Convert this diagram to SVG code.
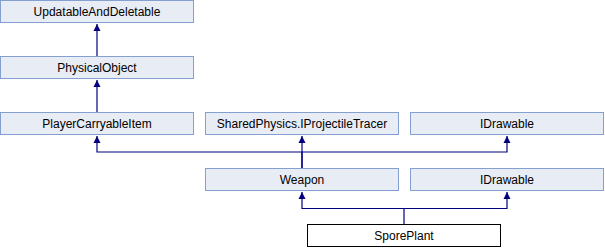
<svg xmlns="http://www.w3.org/2000/svg" width="605" height="248" viewBox="0 0 605 248">
  <style>
    .box rect { fill: #e8ecf5; stroke: #84a0d0; stroke-width: 1; }
    .box.leaf rect { fill: #ffffff; stroke: #000000; }
    .box text { font-family: "Liberation Sans", Arial, sans-serif; font-size: 12px; fill: #000000; text-anchor: middle; }
    .edge { fill: none; stroke: #000080; stroke-width: 1.2; }
  </style>
  <defs>
    <marker id="tri" markerUnits="userSpaceOnUse" markerWidth="8" markerHeight="8" viewBox="0 0 8 8" refX="7" refY="4" orient="auto">
      <path d="M0,0.5 L7,4 L0,7.5 Z" fill="#000080"/>
    </marker>
  </defs>

  <g id="connectors">
    <path class="edge" d="M97,56 V24" marker-end="url(#tri)"/>
    <path class="edge" d="M97,112 V80" marker-end="url(#tri)"/>
    <path class="edge" d="M302,168 V152 H97 V136" marker-end="url(#tri)"/>
    <path class="edge" d="M302,168 V136" marker-end="url(#tri)"/>
    <path class="edge" d="M302,152 H507 V136" marker-end="url(#tri)"/>
    <path class="edge" d="M404,224 V208.5 H302 V192" marker-end="url(#tri)"/>
    <path class="edge" d="M404,208.5 H507 V192" marker-end="url(#tri)"/>
  </g>

  <g id="UpdatableAndDeletable" class="box">
    <rect x="0.5" y="0.5" width="193" height="22"/>
    <text x="97" y="16">UpdatableAndDeletable</text>
  </g>
  <g id="PhysicalObject" class="box">
    <rect x="0.5" y="56.5" width="193" height="22"/>
    <text x="97" y="72">PhysicalObject</text>
  </g>
  <g id="PlayerCarryableItem" class="box">
    <rect x="0.5" y="112.5" width="193" height="22"/>
    <text x="97" y="128">PlayerCarryableItem</text>
  </g>
  <g id="IProjectileTracer" class="box">
    <rect x="205.5" y="112.5" width="193" height="22"/>
    <text x="302" y="128">SharedPhysics.IProjectileTracer</text>
  </g>
  <g id="IDrawable1" class="box">
    <rect x="410.5" y="112.5" width="193" height="22"/>
    <text x="507" y="128">IDrawable</text>
  </g>
  <g id="Weapon" class="box">
    <rect x="205.5" y="168.5" width="193" height="22"/>
    <text x="302" y="184">Weapon</text>
  </g>
  <g id="IDrawable2" class="box">
    <rect x="410.5" y="168.5" width="193" height="22"/>
    <text x="507" y="184">IDrawable</text>
  </g>
  <g id="SporePlant" class="box leaf">
    <rect x="307.5" y="224.5" width="193" height="22"/>
    <text x="404" y="240">SporePlant</text>
  </g>
</svg>
